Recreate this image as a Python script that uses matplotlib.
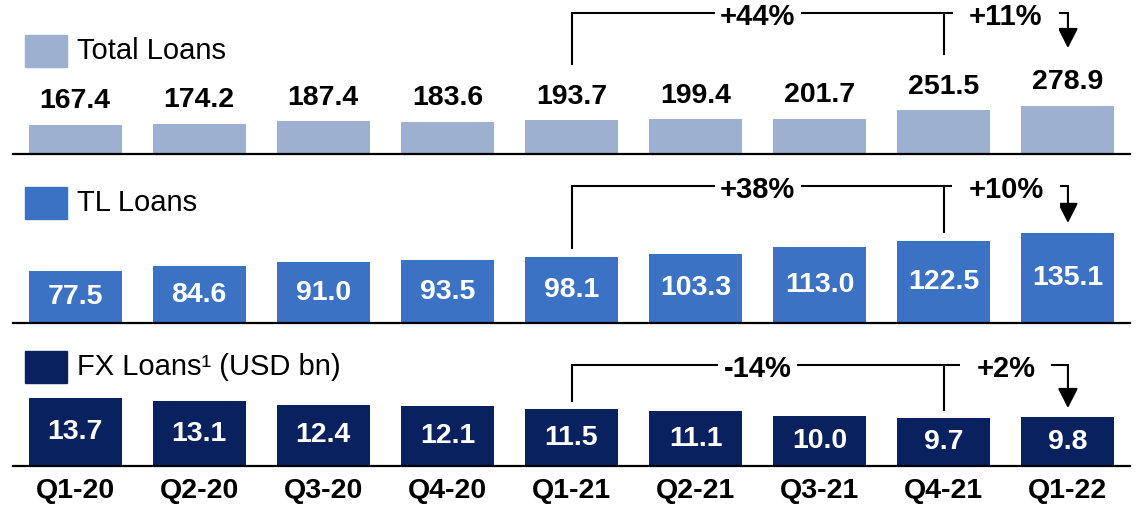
import matplotlib
matplotlib.use("Agg")
import matplotlib.pyplot as plt
from matplotlib.patches import Rectangle

plt.rcParams["font.family"] = ["Liberation Sans", "DejaVu Sans"]

quarters = ["Q1-20", "Q2-20", "Q3-20", "Q4-20", "Q1-21", "Q2-21", "Q3-21", "Q4-21", "Q1-22"]
total_loans = [167.4, 174.2, 187.4, 183.6, 193.7, 199.4, 201.7, 251.5, 278.9]
tl_loans = [77.5, 84.6, 91.0, 93.5, 98.1, 103.3, 113.0, 122.5, 135.1]
fx_loans = [13.7, 13.1, 12.4, 12.1, 11.5, 11.1, 10.0, 9.7, 9.8]

yoy_labels = ["+44%", "+38%", "-14%"]
qoq_labels = ["+11%", "+10%", "+2%"]

W, H = 1142, 507
fig = plt.figure(figsize=(W / 100, H / 100), dpi=100)


def px_axes(left, top, right, bottom):
    return fig.add_axes([left / W, 1 - bottom / H, (right - left) / W, (bottom - top) / H])


# panel layout in pixels: (top, bottom, ymax), bracket fractions (top, left, right, tip)
panels = [
    dict(name="Total Loans", vals=total_loans, color="#9DB0CF", top=0, bottom=153.5, ymax=892,
         inside=False, legend_y=51, br=(0.915, 0.583, 0.648, 0.687)),
    dict(name="TL Loans", vals=tl_loans, color="#3C72C3", top=170, bottom=323, ymax=228.7,
         inside=True, legend_y=203, br=(0.895, 0.490, 0.595, 0.654)),
    dict(name="FX Loans\u00b9 (USD bn)", vals=fx_loans, color="#0A215F", top=340, bottom=466, ymax=25.45,
         inside=True, legend_y=367, br=(0.802, 0.516, 0.444, 0.460)),
]

x = list(range(len(quarters)))
i_start, i_prev, i_last = 4, 7, 8

for k, p in enumerate(panels):
    ax = px_axes(13, p["top"], 1130, p["bottom"])
    ax.bar(x, p["vals"], width=0.75, color=p["color"], zorder=2)
    ax.set_xlim(-0.5, 8.5)
    ax.set_ylim(0, p["ymax"])
    for s in ["top", "left", "right"]:
        ax.spines[s].set_visible(False)
    ax.spines["bottom"].set_linewidth(1.6)
    ax.spines["bottom"].set_color("black")
    ax.set_yticks([])
    if k == 2:
        ax.set_xticks(x)
        ax.set_xticklabels(quarters, fontsize=20.5, fontweight="bold")
        ax.tick_params(axis="x", length=0, pad=9)
    else:
        ax.set_xticks([])

    for xi, v in zip(x, p["vals"]):
        if p["inside"]:
            ax.text(xi, v / 2, f"{v:.1f}", ha="center", va="center", color="white",
                    fontsize=20.5, fontweight="bold", zorder=4)
        else:
            ax.annotate(f"{v:.1f}", (xi, v), xytext=(0, 17), textcoords="offset points",
                        ha="center", va="center", fontsize=20.5, fontweight="bold")

    # growth brackets
    tr = ax.get_xaxis_transform()
    y_top, y_left, y_right, y_tip = p["br"]
    ax.plot([i_start, i_start, i_last], [y_left, y_top, y_top], transform=tr,
            color="black", lw=1.5, clip_on=False, solid_joinstyle="miter")
    ax.plot([i_prev, i_prev], [y_right, y_top], transform=tr, color="black", lw=1.5, clip_on=False)
    ax.annotate("", xy=(i_last, y_tip), xytext=(i_last, y_top), xycoords=tr, textcoords=tr,
                arrowprops=dict(arrowstyle="-|>,head_length=0.55,head_width=0.28",
                                mutation_scale=22, color="black", lw=1.5, shrinkA=0, shrinkB=0))
    ax.annotate(yoy_labels[k], ((i_start + i_prev) / 2, y_top), xycoords=tr,
                xytext=(0, -3), textcoords="offset points", ha="center", va="center",
                fontsize=21, fontweight="bold", zorder=5,
                bbox=dict(boxstyle="square,pad=0.18", fc="white", ec="none"))
    ax.annotate(qoq_labels[k], ((i_prev + i_last) / 2, y_top), xycoords=tr,
                xytext=(0, -3), textcoords="offset points", ha="center", va="center",
                fontsize=21, fontweight="bold", zorder=5,
                bbox=dict(boxstyle="square,pad=0.55", fc="white", ec="none"))

    # legend square and label
    ly = p["legend_y"]
    fig.patches.append(Rectangle((25 / W, 1 - (ly + 16) / H), 42 / W, 32 / H,
                                 transform=fig.transFigure, color=p["color"]))
    fig.text(77 / W, 1 - ly / H, p["name"], fontsize=21, va="center", ha="left")

fig.savefig("out.png", dpi=100)
